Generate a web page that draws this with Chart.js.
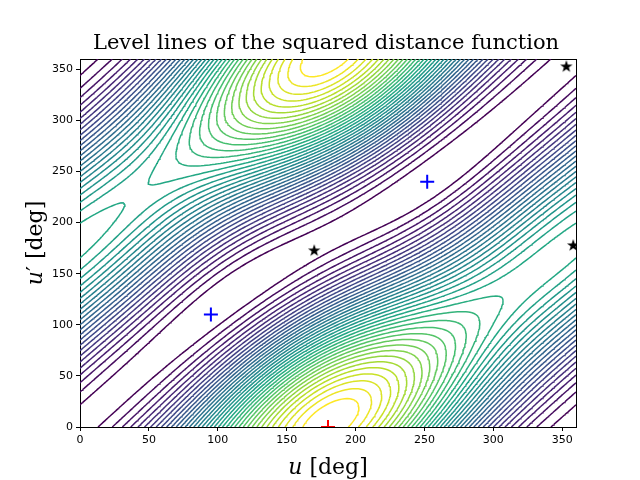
<!DOCTYPE html>
<html><head><meta charset="utf-8">
<script src="https://cdn.jsdelivr.net/npm/chart.js@4"></script>
<style>body{margin:0;background:#fff}</style></head>
<body><canvas id="c" width="640" height="480"></canvas>
<script>
// Orbit elements (semi-major axis, eccentricity, perihelion argument deg, inclination deg)
const orbit1 = [1.0, 0.50, 0, 0];
const orbit2 = [1.0, 0.25, -4, 6];
const gridStep = 2;
const nLevels = 38;
const xTicks = [0,50,100,150,200,250,300,350];
const yTicks = [0,50,100,150,200,250,300,350];
const redCross = [{x:180,y:0}];
const blueCrosses = [{x:95,y:110},{x:252,y:240}];
const stars = [{x:170,y:173},{x:353,y:353},{x:358,y:178}];

const D = Math.PI/180;
function pos(o,u){const [a,e,w,i]=o;const x=a*(Math.cos(u*D)-e),y=a*Math.sqrt(1-e*e)*Math.sin(u*D);
 const c=Math.cos(w*D),s=Math.sin(w*D);const X=c*x-s*y,Y=s*x+c*y;return [X,Y*Math.cos(i*D),Y*Math.sin(i*D)];}
const N=360/gridStep+1, F=[];let fmin=1e9,fmax=-1e9;
const P1=[],P2=[];for(let k=0;k<N;k++){P1.push(pos(orbit1,k*gridStep));P2.push(pos(orbit2,k*gridStep));}
for(let j=0;j<N;j++){F[j]=[];for(let i=0;i<N;i++){const p=P1[i],q=P2[j];const v=(p[0]-q[0])**2+(p[1]-q[1])**2+(p[2]-q[2])**2;F[j][i]=v;fmin=Math.min(fmin,v);fmax=Math.max(fmax,v);}}
const vir=['#440154','#482475','#414487','#355f8d','#2a788e','#21918c','#22a884','#44bf70','#7ad151','#bddf26','#fde725'];
function hex(h){return [1,3,5].map(k=>parseInt(h.substr(k,2),16));}
function viridis(t){const s=t*10,k=Math.min(9,Math.floor(s)),f=s-k,a=hex(vir[k]),b=hex(vir[k+1]);return 'rgb('+a.map((v,m)=>Math.round(v+(b[m]-v)*f)).join(',')+')';}
function contour(L){const pts=[];
 for(let j=0;j<N-1;j++)for(let i=0;i<N-1;i++){
  const c=[[i,j],[i+1,j],[i+1,j+1],[i,j+1]];const v=c.map(([a,b])=>F[b][a]);const cr=[];
  for(let e=0;e<4;e++){const a=v[e],b=v[(e+1)%4];if((a<L)!==(b<L)){const t=(L-a)/(b-a);const p=c[e],q=c[(e+1)%4];
   cr.push({x:(p[0]+(q[0]-p[0])*t)*gridStep,y:(p[1]+(q[1]-p[1])*t)*gridStep});}}
  if(cr.length===2){pts.push(cr[0],cr[1],{x:null,y:null});}
  else if(cr.length===4){pts.push(cr[0],cr[1],{x:null,y:null},cr[2],cr[3],{x:null,y:null});}
 }return pts;}
const datasets=[];
for(let k=1;k<=nLevels;k++){const L=fmin+(fmax-fmin)*k/(nLevels+1);
 datasets.push({type:'line',data:contour(L),borderColor:viridis((k-1)/(nLevels-1)),borderWidth:1.5,pointRadius:0,spanGaps:false,fill:false});}
function starImg(){const c=document.createElement('canvas');c.width=c.height=14;const g=c.getContext('2d');g.fillStyle='#000';g.beginPath();
 for(let k=0;k<10;k++){const r=k%2?2.6:6.5,a=-Math.PI/2+k*Math.PI/5;g.lineTo(7+r*Math.cos(a),7.5+r*Math.sin(a));}g.closePath();g.fill();return c;}
datasets.push({type:'scatter',data:blueCrosses,pointStyle:'cross',pointRadius:7,borderColor:'#0000ff',borderWidth:2});
datasets.push({type:'scatter',data:redCross,pointStyle:'cross',pointRadius:7,borderColor:'#ff0000',borderWidth:2});
datasets.push({type:'scatter',data:stars,pointStyle:starImg(),pointRadius:7});
const labels={id:'labels',afterDraw(ch){const g=ch.ctx;g.save();g.fillStyle='#000';g.textBaseline='alphabetic';
 g.font='21px "DejaVu Serif"';g.textAlign='center';g.fillText('Level lines of the squared distance function',326,49);
 function lab(x,y,prime){g.font='italic 22px "DejaVu Serif"';const u='u';const w1=g.measureText(u).width;
  g.font='22px "DejaVu Serif"';const p=prime?'′':'';const wp=g.measureText(p).width;const r=' [deg]';const w2=g.measureText(r).width;let x0=x-(w1+wp+w2)/2;
  g.textAlign='left';g.font='italic 22px "DejaVu Serif"';g.fillText(u,x0,y);g.font='22px "DejaVu Serif"';g.fillText(p,x0+w1,y);g.fillText(r,x0+w1+wp,y);}
 lab(328,474,false);g.translate(42,243);g.rotate(-Math.PI/2);lab(0,0,true);g.restore();}};
new Chart(document.getElementById('c'),{data:{datasets},plugins:[labels],
 options:{responsive:false,animation:false,events:[],layout:{padding:{left:0,right:64,top:59,bottom:0}},
 plugins:{legend:{display:false},tooltip:{enabled:false}},
 scales:{x:{type:'linear',min:0,max:360,afterFit(s){s.height=53;},afterBuildTicks(s){s.ticks=xTicks.map(v=>({value:v}));},
   grid:{display:true,drawOnChartArea:false,tickLength:4,color:'#000'},border:{color:'#000',width:1},ticks:{color:'#000',font:{size:11,family:'DejaVu Sans'},maxRotation:0}},
  y:{type:'linear',min:0,max:360,afterFit(s){s.width=80;},afterBuildTicks(s){s.ticks=yTicks.map(v=>({value:v}));},
   grid:{display:true,drawOnChartArea:false,tickLength:4,color:'#000'},border:{color:'#000',width:1},ticks:{color:'#000',font:{size:11,family:'DejaVu Sans'}}},
  x2:{type:'linear',position:'top',min:0,max:360,display:true,ticks:{display:false},grid:{display:false},border:{color:'#000'},afterFit(s){s.height=0;}},
  y2:{type:'linear',position:'right',min:0,max:360,display:true,ticks:{display:false},grid:{display:false},border:{color:'#000'},afterFit(s){s.width=0;}}}}});
</script></body></html>
